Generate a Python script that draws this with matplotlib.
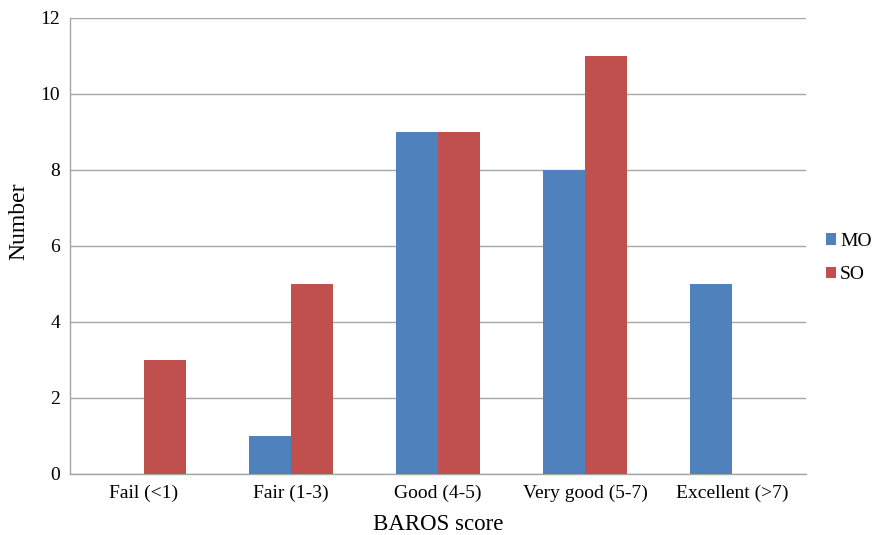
import matplotlib
matplotlib.use("Agg")
import matplotlib.pyplot as plt
import numpy as np

categories = ["Fail (<1)", "Fair (1-3)", "Good (4-5)", "Very good (5-7)", "Excellent (>7)"]
mo_values = [0, 1, 9, 8, 5]
so_values = [3, 5, 9, 11, 0]
y_ticks = [0, 2, 4, 6, 8, 10, 12]

plt.rcParams['font.family'] = ['Liberation Serif', 'DejaVu Serif']

fig = plt.figure(figsize=(8.74, 5.35), dpi=100)
ax = fig.add_axes([70/874, 1-474/535, (806-70)/874, (474-18)/535])

x = np.arange(len(categories))
w = 0.285
ax.bar(x - w/2, mo_values, w, color="#4F81BD", label="MO", zorder=3)
ax.bar(x + w/2, so_values, w, color="#C0504D", label="SO", zorder=3)

ax.set_xlim(-0.5, len(categories) - 0.5)
ax.set_ylim(0, 12)
ax.set_yticks(y_ticks)
ax.set_xticks(x)
ax.set_xticklabels(categories, fontsize=14)
ax.tick_params(axis='y', labelsize=14, length=0, pad=7)
ax.tick_params(axis='x', length=0, pad=8)
ax.yaxis.grid(True, color="#A6A6A6", linewidth=1, zorder=0)
for s in ["top", "right"]:
    ax.spines[s].set_visible(False)
for s in ["left", "bottom"]:
    ax.spines[s].set_color("#A6A6A6")
    ax.spines[s].set_linewidth(1)

ax.set_xlabel("BAROS score", fontsize=16.5)
ax.xaxis.set_label_coords(0.5, (474 - 525) / 456)
ax.xaxis.label.set_va("center")
ax.set_ylabel("Number", fontsize=17)
ax.yaxis.set_label_coords((19 - 70) / 736, (474 - 221) / 456)
ax.yaxis.label.set_va("center")

fig.legend(loc="center left", bbox_to_anchor=(808/874, 1-258/535), frameon=False,
           fontsize=14, handlelength=0.55, handleheight=0.55, handletextpad=0.2,
           labelspacing=0.85)

fig.savefig("out.png", dpi=100)
